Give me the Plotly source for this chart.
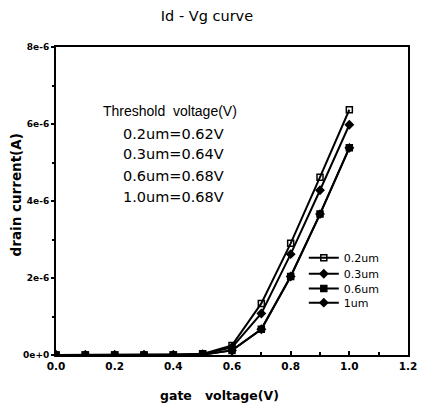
import plotly.graph_objects as go

# Gate voltage sweep (V)
gate_voltage = [0.0, 0.1, 0.2, 0.3, 0.4, 0.5, 0.6, 0.7, 0.8, 0.9, 1.0]

# Drain current (A) for each channel length
id_02um = [0, 0, 0, 0, 0, 0.03e-6, 0.25e-6, 1.34e-6, 2.90e-6, 4.62e-6, 6.37e-6]
id_03um = [0, 0, 0, 0, 0, 0.02e-6, 0.20e-6, 1.08e-6, 2.62e-6, 4.28e-6, 5.98e-6]
id_06um = [0, 0, 0, 0, 0, 0.01e-6, 0.12e-6, 0.67e-6, 2.04e-6, 3.66e-6, 5.38e-6]
id_10um = [0, 0, 0, 0, 0, 0.01e-6, 0.12e-6, 0.67e-6, 2.04e-6, 3.66e-6, 5.38e-6]

# name, values, marker symbol, legend id, legend y (paper)
series = [
    ("1um", id_10um, "diamond", "legend4", 0.170),
    ("0.6um", id_06um, "square", "legend3", 0.216),
    ("0.3um", id_03um, "diamond", "legend2", 0.264),
    ("0.2um", id_02um, "square-open", "legend", 0.316),
]

threshold_lines = ["Threshold  voltage(V)", "0.2um=0.62V", "0.3um=0.64V",
                   "0.6um=0.68V", "1.0um=0.68V"]

y_ticks = [0, 2e-6, 4e-6, 6e-6, 8e-6]
y_tick_text = ["0e+0", "2e-6", "4e-6", "6e-6", "8e-6"]
x_ticks = [0.0, 0.2, 0.4, 0.6, 0.8, 1.0, 1.2]
x_tick_text = ["0.0", "0.2", "0.4", "0.6", "0.8", "1.0", "1.2"]

sans = "Liberation Sans, Arial, sans-serif"
wide = "DejaVu Sans, Verdana, sans-serif"

fig = go.Figure()
for name, vals, sym, leg, _ in series:
    fig.add_trace(go.Scatter(
        x=gate_voltage, y=vals, name=name, mode="lines+markers",
        legend=leg,
        line=dict(color="black", width=2),
        marker=dict(symbol=sym, size=6, color="black",
                    line=dict(color="black", width=1.5)),
    ))

legend_style = dict(x=0.704, xanchor="left", yanchor="middle",
                    bgcolor="rgba(0,0,0,0)", itemwidth=30,
                    font=dict(family=wide, size=11, color="black"))
legends = {}
for name, vals, sym, leg, ly in series:
    legends[leg] = dict(legend_style, y=ly)

fig.update_layout(
    width=425, height=405,
    margin=dict(l=56, r=8, t=47, b=50),
    paper_bgcolor="white", plot_bgcolor="white",
    title=dict(text="Id - Vg curve", x=0.487, xanchor="center", y=0.96,
               yanchor="middle", font=dict(family=wide, size=14.5, color="black")),
    font=dict(family=sans, color="black"),
    showlegend=True,
    xaxis=dict(range=[0, 1.2], tickvals=x_ticks, ticktext=x_tick_text,
               showgrid=False, zeroline=False, showline=True,
               linecolor="black", linewidth=2, mirror=True,
               ticks="inside", ticklen=4, tickwidth=1.5, tickcolor="black",
               minor=dict(dtick=0.1, ticks="inside", ticklen=3,
                          tickcolor="black", tickwidth=1.5),
               tickfont=dict(size=10.5, family=wide, weight="bold")),
    yaxis=dict(range=[0, 8e-6], tickvals=y_ticks, ticktext=y_tick_text,
               showgrid=False, zeroline=False, showline=True,
               linecolor="black", linewidth=2, mirror=True,
               ticks="outside", ticklen=3, tickwidth=1.5, tickcolor="black",
               minor=dict(dtick=1e-6, ticks="outside", ticklen=2,
                          tickcolor="black", tickwidth=1.5),
               tickfont=dict(size=9, family=wide, weight="bold")),
    **legends,
)

# Axis titles
fig.add_annotation(xref="paper", yref="paper", x=0.465, y=-0.132,
                   text="gate   voltage(V)", showarrow=False,
                   xanchor="center", yanchor="middle",
                   font=dict(size=12.5, family=wide, weight="bold"))
fig.add_annotation(xref="paper", yref="paper", x=-0.114, y=0.521,
                   text="drain current(A)", showarrow=False, textangle=-90,
                   xanchor="center", yanchor="middle",
                   font=dict(size=13.5, family=wide, weight="bold"))

# Threshold-voltage summary block
ann_y = [6.34e-6, 5.74e-6, 5.21e-6, 4.66e-6, 4.10e-6]
ann_x = [0.153, 0.223, 0.223, 0.223, 0.223]
ann_font = [(sans, 14), (wide, 14.5), (wide, 14.5), (wide, 14.5), (wide, 14.5)]
for txt, xv, yv, (fam, sz) in zip(threshold_lines, ann_x, ann_y, ann_font):
    fig.add_annotation(x=xv, y=yv, text=txt, showarrow=False,
                       xanchor="left", yanchor="middle",
                       font=dict(size=sz, family=fam, color="black"))

fig.write_html("out.html")
